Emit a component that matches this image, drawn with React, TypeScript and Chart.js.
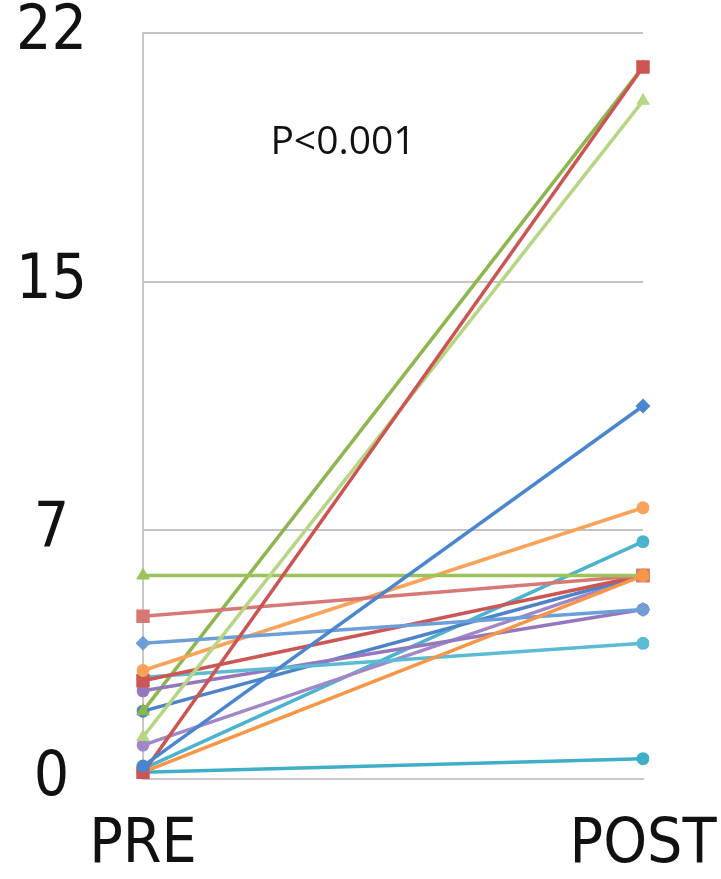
import React, { useEffect, useRef } from "react";
import { Chart, registerables } from "chart.js";

Chart.register(...registerables);

const categories = ["PRE", "POST"];
const yTickValues = [0, 22 / 3, 44 / 3, 22];
const yTickLabels = ["0", "7", "15", "22"];

// listed top-most first (Chart.js draws the first dataset on top)
const preValues = [0.38, 0.18, 0.2, 1.24, 6, 4.8, 4.0, 3.2, 2.9, 3.0, 2.6, 2.0, 2.0, 1.0, 0.3, 0.2];
const postValues = [11, 21, 6, 20, 6, 6, 5, 8, 6, 4, 5, 21, 6, 6, 7, 0.6];

const seriesColors = [
  "#4A86D0", "#CC5452", "#F79646", "#B6D684", "#9BC25B", "#D77876", "#6C9FD8", "#F9A25A",
  "#CB5654", "#5BBBD3", "#9477BD", "#8DB64F", "#4D84C8", "#A287C8", "#4BB3CF", "#3FAEC9",
];
const preMarkers = [
  "circle", "rect", "circle", "triangle", "triangle", "rect", "rectRot", "circle",
  "rect", "circle", "circle", "triangle", "circle", "circle", "circle", "circle",
];
const postMarkers = [
  "rectRot", "rect", "circle", "triangle", "triangle", "rect", "rectRot", "circle",
  "rect", "circle", "circle", "triangle", "circle", "circle", "circle", "circle",
];

const annotationText = "P<0.001";

const tickFont = "'Liberation Sans Narrow', 'DejaVu Sans Condensed', Lato, sans-serif";

function radiusFor(marker: string) {
  return marker === "rect" ? 9.5 : marker === "triangle" ? 8 : marker === "rectRot" ? 7.5 : 6.5;
}

export default function App() {
  const canvasRef = useRef<HTMLCanvasElement | null>(null);

  useEffect(() => {
    if (!canvasRef.current) return;
    const datasets = preValues.map((pre, i) => {
      const markers = [preMarkers[i], postMarkers[i]];
      return {
        label: "S" + (i + 1),
        data: [pre, postValues[i]],
        borderColor: seriesColors[i],
        backgroundColor: seriesColors[i],
        borderWidth: 3.5,
        pointStyle: markers,
        pointRadius: markers.map(radiusFor),
        pointBorderWidth: 0,
        pointBackgroundColor: seriesColors[i],
        tension: 0,
      };
    });

    const textPlugin = {
      id: "pText",
      afterDatasetsDraw(chart: any) {
        const ctx = chart.ctx;
        const x = chart.scales.x.getPixelForValue(0.4);
        const y = chart.scales.y.getPixelForValue(18.75);
        ctx.save();
        ctx.font = "39px 'Open Sans', sans-serif";
        ctx.fillStyle = "#111";
        ctx.textAlign = "center";
        ctx.textBaseline = "middle";
        ctx.fillText(annotationText, x, y);
        ctx.restore();
      },
    };

    const chart = new Chart(canvasRef.current, {
      type: "line",
      data: { labels: categories, datasets: datasets as any },
      options: {
        animation: false,
        responsive: true,
        maintainAspectRatio: false,
        layout: { padding: { top: 33, right: 78, left: 0, bottom: 0 } },
        plugins: { legend: { display: false }, tooltip: { enabled: false } },
        scales: {
          x: {
            type: "category",
            offset: false,
            grid: { display: false, drawTicks: false },
            border: { display: true, color: "#C8C8C8", width: 2 },
            ticks: {
              font: { family: tickFont, size: 62 },
              color: "#111",
              padding: 30,
              maxRotation: 0,
              autoSkip: false,
            },
            afterFit(scale: any) {
              scale.height = 100;
              scale.paddingLeft = 0;
              scale.paddingRight = 0;
            },
          },
          y: {
            min: 0,
            max: 22,
            grid: { color: "#C4C4C4", lineWidth: 2, drawTicks: false },
            border: { display: true, color: "#C8C8C8", width: 2 },
            afterBuildTicks(scale: any) {
              scale.ticks = yTickValues.map((v) => ({ value: v }));
            },
            ticks: {
              font: { family: tickFont, size: 62 },
              color: "#111",
              padding: 56,
              crossAlign: "center",
              callback: (_v: any, idx: number) => yTickLabels[idx],
            },
            afterFit(scale: any) {
              scale.width = 143;
              scale.paddingTop = 0;
              scale.paddingBottom = 0;
            },
          },
        },
      },
      plugins: [textPlugin],
    });
    return () => chart.destroy();
  }, []);

  return (
    <div style={{ position: "fixed", left: 0, top: 0, width: 721, height: 879, background: "#fff" }}>
      <canvas ref={canvasRef} />
    </div>
  );
}
